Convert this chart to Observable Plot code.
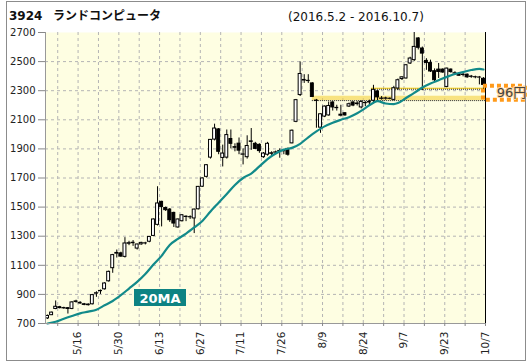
<!DOCTYPE html>
<html><head><meta charset="utf-8">
<script src="https://cdn.jsdelivr.net/npm/d3@7"></script>
<script src="https://cdn.jsdelivr.net/npm/@observablehq/plot@0.6"></script>
<style>
body{margin:0;background:#fff;}
#wrap{position:relative;width:532px;height:364px;overflow:hidden;background:#fff;}
#wrap svg{position:absolute;left:0;top:0;}
#frame{position:absolute;left:6px;top:1px;width:520px;height:360px;box-sizing:border-box;border:1px solid #8c8c8c;pointer-events:none;}
</style></head><body><div id="wrap"><div id="frame"></div></div><script>
const dates=["5/2","5/6","5/9","5/10","5/11","5/12","5/13",
"5/16","5/17","5/18","5/19","5/20","5/23","5/24","5/25","5/26","5/27",
"5/30","5/31","6/1","6/2","6/3","6/6","6/7","6/8","6/9","6/10",
"6/13","6/14","6/15","6/16","6/17","6/20","6/21","6/22","6/23","6/24",
"6/27","6/28","6/29","6/30","7/1","7/4","7/5","7/6","7/7","7/8",
"7/11","7/12","7/13","7/14","7/15","7/19","7/20","7/21","7/22",
"7/25","7/26","7/27","7/28","7/29","8/1","8/2","8/3","8/4","8/5",
"8/8","8/9","8/10","8/12","8/15","8/16","8/17","8/18","8/19",
"8/22","8/23","8/24","8/25","8/26","8/29","8/30","8/31","9/1","9/2",
"9/5","9/6","9/7","9/8","9/9","9/12","9/13","9/14","9/15","9/16",
"9/20","9/21","9/23","9/26","9/27","9/28","9/29","9/30",
"10/3","10/4","10/5","10/6","10/7"];
const open=[735,757,800,812,806,805,800,848,842,832,830,832,905,922,935,990,1080,1180,1182,1158,1248,1252,1215,1244,1250,1262,1302,1378,1536,1494,1483,1460,1360,1403,1432,1430,1422,1485,1640,1708,1840,1964,2034,1838,1840,1968,1912,1936,1860,1843,1948,1935,1928,1843,1860,1866,1874,1884,1884,1900,1938,2086,2270,2370,2366,2350,2232,2046,2122,2130,2219,2180,2128,2145,2191,2219,2208,2185,2214,2219,2231,2295,2244,2245,2244,2237,2315,2380,2384,2487,2510,2659,2590,2505,2490,2434,2445,2445,2326,2445,2418,2415,2408,2410,2395,2392,2390,2382];
const high=[758,778,855,818,812,810,850,860,850,838,835,900,918,930,980,1060,1175,1205,1190,1290,1265,1270,1245,1258,1258,1298,1418,1640,1540,1500,1490,1465,1418,1448,1440,1440,1486,1642,1700,1792,1965,2070,2040,1926,2030,2030,1935,1975,1900,1990,2040,1945,1935,1875,1945,1880,1885,1900,1895,1905,2030,2240,2498,2410,2410,2355,2240,2140,2195,2222,2225,2200,2200,2150,2215,2225,2225,2230,2225,2235,2337,2300,2260,2255,2250,2330,2380,2395,2480,2530,2700,2665,2600,2520,2510,2450,2487,2450,2455,2450,2430,2425,2420,2415,2405,2400,2398,2390];
const low=[728,755,795,800,798,765,795,840,832,822,820,828,880,900,930,985,1045,1150,1155,1150,1235,1230,1205,1238,1240,1255,1298,1370,1364,1470,1395,1360,1355,1398,1400,1415,1318,1480,1635,1700,1830,1955,1860,1776,1830,1900,1880,1860,1790,1830,1890,1895,1870,1835,1850,1855,1860,1836,1860,1850,1935,2080,2260,2350,2350,2255,2042,2007,2115,2125,2160,2160,2120,2125,2185,2190,2195,2175,2190,2200,2210,2220,2235,2235,2238,2230,2300,2370,2380,2480,2500,2580,2300,2440,2425,2360,2384,2420,2320,2420,2405,2400,2395,2385,2385,2382,2340,2300];
const close=[752,775,815,806,804,800,845,852,838,828,826,895,908,924,975,1055,1170,1185,1160,1250,1252,1255,1243,1254,1251,1295,1415,1525,1501,1479,1410,1387,1415,1444,1434,1431,1483,1639,1697,1788,1962,2040,1880,1868,1995,1935,1908,1888,1862,1920,1952,1900,1885,1868,1935,1870,1876,1886,1886,1860,2025,2235,2415,2374,2368,2257,2230,2138,2191,2195,2185,2182,2135,2130,2207,2198,2212,2223,2216,2222,2306,2254,2246,2247,2245,2317,2372,2392,2475,2521,2601,2595,2555,2490,2432,2372,2429,2425,2452,2428,2420,2403,2410,2392,2397,2393,2391,2340];
// 20-day moving average (trading-day index, price)
const maIndex=[0,2,4,6,8,10,12,14,16,18,20,22,24,26,28,30,32,34,36,38,40,42,44,46,48,50,52,54,56,58,60,62,64,66,68,70,72,74,76,78,80,81,83,85,86,88,90,92,94,96,98,100,102,104,106,107];
const maValue=[700,712,733,752,770,782,795,825,855,895,940,986,1040,1105,1165,1240,1282,1318,1360,1405,1470,1530,1590,1652,1700,1730,1780,1830,1868,1895,1907,1935,1980,2020,2055,2080,2100,2118,2145,2180,2218,2228,2212,2208,2215,2250,2285,2322,2350,2372,2395,2415,2428,2442,2450,2446];
const yTicks=[700,900,1100,1300,1500,1700,1900,2100,2300,2500,2700];
const xLabelDates=["5/16","5/30","6/13","6/27","7/11","7/26","8/9","8/24","9/7","9/23","10/7"];
const codeText="3924", nameText="ランドコンピュータ", periodText="(2016.5.2 - 2016.10.7)";
const maLabel="20MA";
const gapZone={start:"8/5",low:2232,high:2262};
const resistance={start:"8/29",value:2310};
const rangeBox={low:2235,high:2331,label:"96円"};

const n=dates.length;
const idx=d=>dates.indexOf(d);
const candles=dates.map((d,i)=>({i,date:d,o:open[i],h:high[i],l:low[i],c:close[i]}));
const ma=maIndex.map((d,k)=>({i:d,v:maValue[k]}));
const gridPos=d3.range(3,n+1,5);
const labelPos=xLabelDates.map(d=>idx(d)+1);
const half=0.36;

const chart=Plot.plot({
  width:532,height:364,marginLeft:45,marginRight:47,marginTop:32,marginBottom:41,
  style:{fontFamily:"DejaVu Sans, Verdana, sans-serif",fontSize:"10px",color:"#222",background:"transparent",overflow:"visible"},
  x:{domain:[0,n],axis:null},
  y:{domain:[700,2700],axis:null},
  marks:[
    Plot.frame({fill:"#fefee2",stroke:null}),
    Plot.gridY(yTicks.slice(1,-1),{stroke:"#b4b4b4",strokeOpacity:1,strokeDasharray:"3,3"}),
    Plot.gridX(gridPos.filter(p=>p<n),{stroke:"#b4b4b4",strokeOpacity:1,strokeDasharray:"3,3"}),
    Plot.rect([gapZone],{x1:d=>idx(d.start)+0.5,x2:n,y1:"low",y2:"high",fill:"#f4d040",fillOpacity:0.6}),
    Plot.ruleY([gapZone],{x1:d=>idx(d.start)+0.5,x2:n,y:"low",stroke:"#222",strokeDasharray:"1,1"}),
    Plot.ruleY([resistance],{x1:d=>idx(d.start),x2:n,y:"value",stroke:"#f4c800",dy:-1}),
    Plot.ruleY([resistance],{x1:d=>idx(d.start),x2:n,y:"value",stroke:"#222",strokeDasharray:"1,1"}),
    Plot.ruleX(candles,{x:d=>d.i+0.5,y1:"l",y2:"h",stroke:"#000"}),
    Plot.rect(candles,{x1:d=>d.i+0.5-half,x2:d=>d.i+0.5+half,y1:d=>Math.min(d.o,d.c),y2:d=>Math.max(d.o,d.c),fill:d=>d.c>d.o?"#fff":"#000",stroke:"#000",strokeWidth:1}),
    Plot.line(ma,{x:d=>d.i+0.5,y:"v",stroke:"#128a8a",strokeWidth:2.2,curve:"monotone-x"}),
    Plot.ruleX([n],{stroke:"#000"}),
    Plot.ruleX([0],{stroke:"#999"}),
    Plot.ruleY([700],{stroke:"#999"}),
    Plot.axisY(yTicks,{tickSize:7,tickFormat:()=>"",color:"#888"}),
    Plot.axisY(yTicks,{tickSize:0,tickPadding:10,tickFormat:d=>String(d),color:"#222",fontSize:10}),
    Plot.axisX(gridPos,{tickSize:3,tickFormat:()=>"",color:"#888"}),
    Plot.axisX(labelPos,{tickSize:0,tickPadding:8,tickRotate:-90,tickFormat:p=>dates[p-1],color:"#222",fontSize:10.5}),
    Plot.rect([rangeBox],{x1:n-0.5,x2:n+9.8,y1:"low",y2:"high",fill:"none",stroke:"#ff9a1a",strokeWidth:4,strokeDasharray:"4,3"}),
    Plot.text([rangeBox],{x:n+6.4,y:d=>(d.low+d.high)/2,text:"label",fontSize:13,fill:"#444",stroke:"#ffd59a",strokeWidth:2,fontFamily:"DejaVu Sans, Noto Sans CJK JP"})
  ]
});
document.getElementById("wrap").insertBefore(chart,document.getElementById("frame"));
const svg=d3.select(chart);
svg.append("text").attr("x",9).attr("y",20).attr("text-anchor","start").attr("font-family","DejaVu Sans").attr("font-weight","bold").attr("font-size",12).attr("fill","#111").text(codeText);
svg.append("text").attr("x",53).attr("y",20).attr("text-anchor","start").attr("font-family","Noto Sans CJK JP").attr("font-weight","bold").attr("font-size",12).attr("fill","#111").text(nameText);
svg.append("text").attr("x",288).attr("y",20.5).attr("text-anchor","start").attr("font-family","DejaVu Sans").attr("font-size",12).attr("fill","#111").text(periodText);
svg.append("rect").attr("x",134).attr("y",289).attr("width",52).attr("height",17).attr("fill","#0d8383");
svg.append("text").attr("x",160).attr("y",302.5).attr("text-anchor","middle").attr("font-family","DejaVu Sans").attr("font-weight","bold").attr("font-size",13).attr("fill","#fff").text(maLabel);
</script></body></html>
